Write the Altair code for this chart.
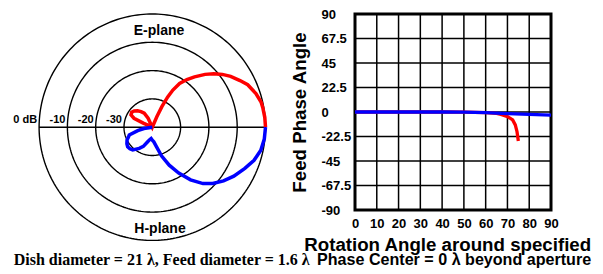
import numpy as np
import pandas as pd
import altair as alt

# ---------------- polar radiation pattern (angle from boresight in deg, level in dB) -------------
e_angle = [0, 5, 10, 13, 18, 24, 28, 33, 37, 41, 45, 50, 54, 58, 61, 63, 65, 66.5, 68, 90, 110,
           115, 120, 126, 132, 138, 144, 150, 154, 156, 158, 180]
e_db = [0, -0.1, -0.35, -0.55, -1.5, -3.1, -4.9, -7.0, -9.0, -11.2, -13.6, -16.8, -19.2, -21.8,
        -25.0, -28.0, -32.0, -36.0, -40, -40, -40,
        -36.5, -34.3, -33.2, -32.2, -31.4, -31.0, -31.3, -32.8, -36.5, -40, -40]

h_angle = [0, 6, 12, 18, 24, 31, 37, 43, 48, 54, 60, 66, 72, 78, 84, 90, 96, 102, 107.6, 115,
           121.5, 130.7, 136, 141.6, 147, 153.2, 157, 161.3, 166.5, 171, 175, 180]
h_db = [0, -0.2, -0.8, -2.2, -4.2, -6.4, -8.5, -10.8, -13.2, -17.0, -21.3, -25.3, -29.3, -33.0,
        -34.8, -35.4, -36.0, -35.5, -34.6, -32.5, -31.2, -29.4, -29.0, -28.9, -29.3, -30.0,
        -30.8, -31.4, -34.7, -37.0, -40, -40]

ring_db = [0, -10, -20, -30]
ring_labels = ["0 dB", "-10", "-20", "-30"]
floor_db = -40
px_per_db = 2.83

# ---------------- feed phase vs rotation angle ----------------
phase_x_e = [0, 10, 20, 30, 40, 50, 60, 65, 67, 70.1, 72.4, 73.6, 74.4, 75.0]
phase_e = [0, 0, 0, 0, 0, -0.2, -0.6, -1.3, -2.2, -4.3, -7.3, -11.9, -18.1, -26.6]
phase_x_h = [0, 10, 20, 30, 40, 50, 60, 70, 80, 90]
phase_h = [0, 0, 0, 0, 0, -0.2, -0.6, -1.4, -2.1, -2.8]
y_ticks = [-90, -67.5, -45, -22.5, 0, 22.5, 45, 67.5, 90]
x_ticks = [0, 10, 20, 30, 40, 50, 60, 70, 80, 90]

caption1 = "Dish diameter = 21 \u03bb, Feed diameter = 1.6 \u03bb"
caption2 = "Phase Center = 0 \u03bb beyond aperture"

SANS = "Liberation Sans, Arial, Helvetica"
SERIF = "Liberation Serif, Times New Roman"


def radius(db):
    return (max(db, floor_db) - floor_db) * px_per_db


rows = []
for i, (a, d) in enumerate(zip(e_angle, e_db)):
    r = radius(d)
    rows.append(dict(series="E-plane", i=i, x=r * np.cos(np.radians(a)), y=r * np.sin(np.radians(a))))
for i, (a, d) in enumerate(zip(h_angle, h_db)):
    r = radius(d)
    rows.append(dict(series="H-plane", i=i, x=r * np.cos(np.radians(a)), y=-r * np.sin(np.radians(a))))
pattern_df = pd.DataFrame(rows)

ring_rows = []
t = np.linspace(0, 2 * np.pi, 241)
for d in ring_db:
    r = radius(d)
    for k, tt in enumerate(t):
        ring_rows.append(dict(ring=str(d), k=k, x=r * np.cos(tt), y=r * np.sin(tt)))
ring_df = pd.DataFrame(ring_rows)

R0 = radius(0)
axis_df = pd.DataFrame({"x": [-R0], "x2": [R0], "y": [0.0]})
lab_df = pd.DataFrame({"label": ring_labels,
                       "x": [-radius(d) - 2 for d in ring_db],
                       "y": [3.8] * len(ring_db)})
plane_df = pd.DataFrame({"label": ["E-plane", "H-plane"], "x": [6.7, 7.7], "y": [96.3, -102.0]})

xs = alt.Scale(domain=[-143.3, 126.7], nice=False, zero=False)
ys = alt.Scale(domain=[-116.8, 113.2], nice=False, zero=False)

rings = alt.Chart(ring_df).mark_line(color="black", strokeWidth=1.4).encode(
    x=alt.X("x:Q", scale=xs, axis=None),
    y=alt.Y("y:Q", scale=ys, axis=None),
    detail="ring:N",
    order="k:Q",
)
hline = alt.Chart(axis_df).mark_rule(color="black", strokeWidth=1.4).encode(
    x=alt.X("x:Q", scale=xs, axis=None), x2="x2:Q", y=alt.Y("y:Q", scale=ys, axis=None)
)
pattern = alt.Chart(pattern_df).mark_line(strokeWidth=3.5).encode(
    x=alt.X("x:Q", scale=xs, axis=None),
    y=alt.Y("y:Q", scale=ys, axis=None),
    color=alt.Color("series:N", scale=alt.Scale(domain=["E-plane", "H-plane"], range=["#ff0000", "#0000ff"]), legend=None),
    order="i:Q",
)
ring_text = alt.Chart(lab_df).mark_text(align="right", baseline="alphabetic", font=SANS,
                                         fontSize=11, fontWeight="bold", color="black").encode(
    x=alt.X("x:Q", scale=xs, axis=None), y=alt.Y("y:Q", scale=ys, axis=None), text="label:N"
)
plane_text = alt.Chart(plane_df).mark_text(align="center", baseline="middle", font=SANS,
                                           fontSize=14, fontWeight="bold", color="black").encode(
    x=alt.X("x:Q", scale=xs, axis=None), y=alt.Y("y:Q", scale=ys, axis=None), text="label:N"
)
cap1 = alt.Chart(pd.DataFrame({"t": [caption1]})).mark_text(
    align="left", baseline="alphabetic", font=SERIF, fontSize=16, fontWeight="bold", color="black"
).encode(x=alt.value(4.7), y=alt.value(251), text="t:N")
cap2 = alt.Chart(pd.DataFrame({"t": [caption2]})).mark_text(
    align="left", baseline="alphabetic", font=SANS, fontSize=16.1, fontWeight="bold", color="black"
).encode(x=alt.value(308), y=alt.value(251), text="t:N")

left = alt.layer(rings, hline, pattern, ring_text, plane_text, cap1, cap2).properties(
    width=270, height=230, view=alt.ViewBackground(fill="white", stroke="transparent")
)

phase_df = pd.concat([
    pd.DataFrame({"series": "E-plane", "angle": phase_x_e, "phase": phase_e}),
    pd.DataFrame({"series": "H-plane", "angle": phase_x_h, "phase": phase_h}),
], ignore_index=True)

px_scale = alt.Scale(domain=[0, 90], nice=False)
py_scale = alt.Scale(domain=[-90, 90], nice=False)
x_axis = alt.Axis(values=x_ticks, ticks=False, domain=False, grid=False, labelFont=SANS, labelFontSize=13,
                  labelFontWeight="bold", labelColor="black", labelPadding=7,
                  labelFlush=False, labelOverlap=False,
                  title="Rotation Angle around specified", titleFont=SANS, titleFontSize=18.7,
                  titleFontWeight="bold", titleColor="black", titleX=92.2, titleY=34.7,
                  titleBaseline="middle", titleAlign="center")
y_axis = alt.Axis(values=y_ticks, ticks=False, domain=False, grid=False, labelFont=SANS, labelFontSize=13,
                  labelFontWeight="bold", labelColor="black", labelPadding=34,
                  labelAlign="left", labelFlush=False, labelOverlap=False,
                  labelExpr="'' + datum.value",
                  title="Feed Phase Angle", titleFont=SANS, titleFontSize=18.7,
                  titleFontWeight="bold", titleColor="black", titleX=-55.3, titleY=98,
                  titleBaseline="middle", titleAlign="center", titleAngle=270)

vgrid = alt.Chart(pd.DataFrame({"v": x_ticks})).mark_rule(color="black", strokeWidth=1.5).encode(
    x=alt.X("v:Q", scale=px_scale, axis=x_axis)
)
hgrid = alt.Chart(pd.DataFrame({"h": y_ticks})).mark_rule(color="black", strokeWidth=1.5).encode(
    y=alt.Y("h:Q", scale=py_scale, axis=y_axis)
)
lines = alt.Chart(phase_df).mark_line(strokeWidth=3.3).encode(
    x=alt.X("angle:Q", scale=px_scale, axis=x_axis),
    y=alt.Y("phase:Q", scale=py_scale, axis=y_axis),
    color=alt.Color("series:N", scale=alt.Scale(domain=["E-plane", "H-plane"], range=["#ff0000", "#0000ff"]),
                    legend=alt.Legend(title=None, orient="none", legendX=19.7, legendY=11, padding=0,
                                      symbolType="stroke", symbolSize=313, symbolStrokeWidth=3.5,
                                      labelFont=SERIF, labelFontSize=16, labelFontWeight="bold",
                                      labelColor=alt.ExprRef(expr="datum.label == 'E-plane' ? '#ff0000' : '#0000ff'"),
                                      labelOffset=3, rowPadding=9)),
)
right = alt.layer(vgrid, hgrid, lines).properties(
    width=196, height=196, view=alt.ViewBackground(stroke="black", strokeWidth=3)
)

chart = alt.hconcat(left, right, spacing=76, bounds="flush").properties(
    padding={"left": 0, "top": -2, "right": 0, "bottom": 0}
).configure_view(stroke="transparent")

chart.save("out.html", embed_options={"renderer": "svg", "actions": False})
